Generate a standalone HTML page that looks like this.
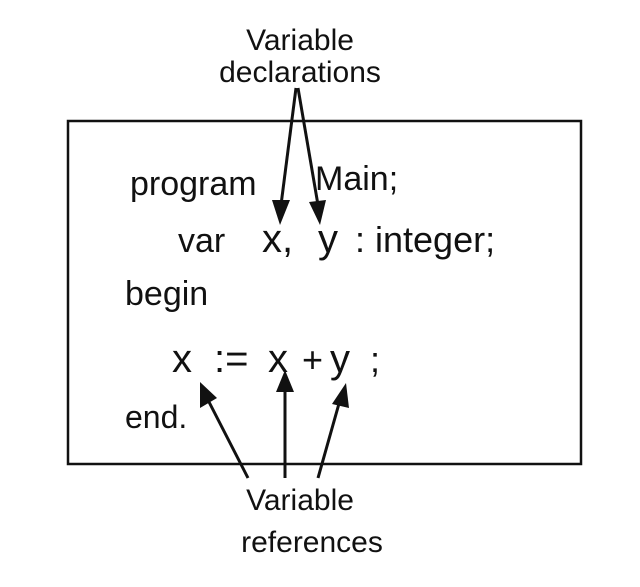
<!DOCTYPE html>
<html><head><meta charset="utf-8"><style>
html,body{margin:0;padding:0;background:#fff;}
svg{display:block;}
text{font-family:"Liberation Sans",sans-serif;fill:#111;}
</style></head><body>
<svg width="640" height="587" viewBox="0 0 640 587" xmlns="http://www.w3.org/2000/svg">
<rect x="68" y="121" width="513" height="343" fill="none" stroke="#111" stroke-width="2.5"/>
<text x="300" y="50" font-size="30" text-anchor="middle">Variable</text>
<text x="300" y="82" font-size="30" text-anchor="middle">declarations</text>
<text x="130" y="195" font-size="34">program</text>
<text x="315" y="190" font-size="34">Main;</text>
<text x="178" y="252" font-size="34">var</text>
<text x="262" y="252" font-size="40">x,</text>
<text x="318" y="252" font-size="40">y</text>
<text x="355" y="252" font-size="36">: integer;</text>
<text x="125" y="305" font-size="34">begin</text>
<text x="172" y="372" font-size="40">x</text>
<text x="214" y="372" font-size="40">:=</text>
<text x="268" y="372" font-size="40">x</text>
<text x="302" y="372" font-size="36">+</text>
<text x="330" y="372" font-size="40">y</text>
<text x="370" y="372" font-size="36">;</text>
<text x="125" y="428" font-size="32">end.</text>
<text x="300" y="510" font-size="30" text-anchor="middle">Variable</text>
<text x="312" y="552" font-size="30" text-anchor="middle">references</text>
<g stroke="#111" stroke-width="3" fill="none">
<line x1="296" y1="88" x2="281" y2="205"/>
<line x1="298" y1="88" x2="318" y2="205"/>
<line x1="248" y1="478" x2="208" y2="400"/>
<line x1="285" y1="478" x2="285" y2="385"/>
<line x1="318" y1="478" x2="340" y2="400"/>
</g>
<g fill="#111">
<polygon points="272,200 290,200 280,225"/>
<polygon points="309,202 326,200 320,225"/>
<polygon points="200,408 217,398 200,382"/>
<polygon points="276,392 294,392 285,370"/>
<polygon points="332,404 349,408 346,383"/>
</g>
</svg>
</body></html>
